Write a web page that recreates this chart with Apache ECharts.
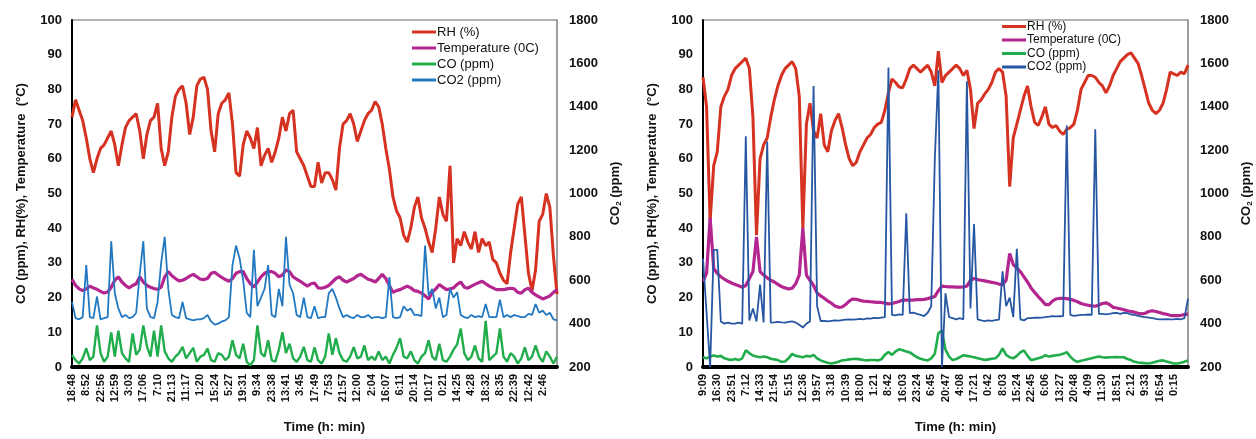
<!DOCTYPE html>
<html><head><meta charset="utf-8">
<script src="https://cdn.jsdelivr.net/npm/echarts@6/dist/echarts.min.js"></script>
<style>html,body{margin:0;padding:0;background:#fff}#c{width:1256px;height:439px}</style>
</head><body><div id="c"></div>
<script>
var timeLabelsA = ['18:48','8:52','22:56','12:59','3:03','17:06','7:10','21:13','11:17','1:20','15:24','5:27','19:31','9:34','23:38','13:41','3:45','17:49','7:53','21:57','12:00','2:04','16:07','6:11','20:14','10:17','0:21','14:25','4:28','18:32','8:35','22:39','12:42','2:46'];
var timeLabelsB = ['9:09','16:30','23:51','7:12','14:33','21:54','5:15','12:36','19:57','3:18','10:39','18:00','1:21','8:42','16:03','23:24','6:45','20:47','4:08','17:21','0:42','8:03','15:24','22:45','6:06','13:27','20:48','4:09','11:30','18:51','2:12','9:33','16:54','0:15'];
var seriesNames = ['RH (%)','Temperature (0C)','CO (ppm)','CO2 (ppm)'];

var rhA = [72,77,74,71,66,60,56,60,63,64,
66,68,64,58,64,69,71,72,73,68,
60,67,71,72,76,63,58,62,72,78,
80,81,76,67,72,81,83,83.5,80,68,
62,73,76,77,79,70,56,55,64,68,
66,63,69,58,61,63,59,62,66,72,
68,73,74,62,60,58,55,52,52,59,
53,56,56,54,51,63,70,71,73,70,
65,68,71,73,74,76.5,75,70,63,57,
49,45,43,38,36,40,46,49,43,40,
36,33,40,49,44,42,58,30,37,35,
39,36,34,39,33,37,35,36,31,30,
27,25,24,33,40,47,49,38,27,22,
28,42,44,50,46,32,21];
var tempA = [25.3,23.5,22.5,22,22.5,23.3,22.8,22.4,21.8,21.3,
21.6,23,25,26,24.5,23.5,22.8,23.5,24,26,
24.5,23.5,23,22.6,22.4,23,26,27.5,26.3,25.5,
24.8,25,25.5,26.2,26.7,26,25.3,25.2,25.5,27,
27.3,26.5,25.8,25.2,24.7,25.5,27,27.5,27.5,25.5,
24,23,24.5,26,27,27.5,27.5,27,26,26.5,
28,27.5,26,25.3,24.7,24,23.3,24,24.2,22.8,
22.7,23,23.5,24.5,25.5,26,25,24.5,25,25.5,
26.3,26.7,26,25.3,25,24.5,25.5,26.7,25.5,23.5,
21.5,22,22.3,22.8,23.3,22.8,22,21.8,21.3,20.5,
19.6,21.5,22.5,23.8,23,22.3,22.5,22.8,23.8,24.5,
23,22.7,23.3,23.8,24.3,24.7,24,23.3,22.8,22.3,
22.3,22.3,22.5,22.7,22.5,21.5,21.3,22.3,22.7,21.5,
20.8,20.2,19.6,20,20.5,21.5,22.3];
var coA = [3.4,2,1,2.5,5.4,2,3,12,4,1.5,
3,10,3,10.5,4,2.5,1.5,9.7,3.5,5,
12,6,3,10.5,3,12,4.5,2.5,1.5,3,
4,5.8,2.5,4,5.5,1.5,3,3.5,5.3,2,
1.5,4,3.5,2,3,7.7,3.5,2.5,6.7,1.5,
0.5,2,12,4,3,7.7,2,1.5,5,10,
4,6.7,2.5,1.5,3,5.8,2,1.5,5.7,2,
1,3,9.7,3.5,8.3,4,2,1.5,3,5.7,
2.5,3,6.2,2,3,2,4.5,2,3,1,
3.5,5.5,8.3,3,2.5,4.5,2,1,3,4,
7.7,3,2,6.7,2,1.5,3,5,6.5,11.1,
4,2,3,6.2,2.5,1.5,13.3,2,3,4,
11.1,3,1.5,4,3,1,2.5,5.7,2,3,
6.2,3,1.5,4.5,3,1,3];
var co2A = [500,425,420,430,670,430,425,525,420,425,
430,780,540,470,430,440,425,430,450,630,
780,470,430,425,500,680,800,560,440,430,
425,500,425,420,415,420,420,425,440,410,
395,400,410,415,430,670,760,700,600,450,
430,740,480,520,560,670,440,430,560,480,
800,580,540,440,430,520,430,425,480,425,
430,430,540,560,520,470,430,440,430,425,
440,430,430,440,425,430,430,425,430,615,
430,425,430,480,460,470,440,440,435,760,
530,560,470,520,430,440,560,520,545,440,
430,425,440,430,435,430,490,430,430,430,
510,430,440,430,440,435,430,430,445,440,
490,450,460,440,450,420,415];

var rhB = [83.5,75,42,58,62,75,78,80,84,86,
87,88,89,86,72,38,60,64,66,72,
77,81,84,86,87,88,86,78,40,70,
76,68,66,73,64,62,68,71,73,69,
64,60,58,59,62,64,66,67,69,70,
70.5,74,79,83,82,80.7,80.5,83,86,87,
86,85,86,87,85,81,91,82,84,85,
86,87,86,84,85.5,80,68.7,76,77,78.7,
80,82,85,86,85,78,52,66,70,74,
78,81,75,70.5,69.6,72,75,70,69,69.6,
68,67,68.5,69,70,74,80,82,84,84,
83.5,82,81,79,81,84,86,88,89,90,
90.5,89,87.5,84,80,76,74,73,74,76,
80,85,84.5,84,85,84.5,87];
var tempB = [24.7,27,43,28.4,27,26,25.3,24.7,24.2,23.8,
23.4,23,23.5,25.5,27.5,37.5,27.5,26.5,25.7,25,
24.5,23.8,23.2,22.8,22.5,22.7,24,26.5,40,26.5,
25,23.5,21.3,20.5,19.8,19,18.4,17.6,17.2,17.3,
18,19,19.6,19.5,19.2,19,18.9,18.8,18.7,18.6,
18.6,18.4,18.2,18.3,18.6,18.9,19.3,19.3,19.3,19.3,
19.4,19.4,19.5,19.7,20,20.3,22,23.3,23.2,23.1,
23.1,23,23,23.1,23.3,25,25.5,25.2,25,24.8,
24.6,24.4,24.2,23.9,23.7,25,32.7,29.5,28.5,27.5,
26,24.5,22.8,21.5,20.3,19.2,18,18,19,19.6,
19.8,19.8,19.7,19.5,19.2,18.8,18.3,18,17.8,17.6,
17.5,17.9,18.3,18.5,18,17.2,17,16.8,16.5,16.2,
16,15.8,15.5,15.3,15.5,16,16.2,16,15.7,15.4,
15.2,14.9,14.8,14.8,14.9,15.1,15.3];
var coB = [2.8,2.5,3,3.3,3,3.2,2.5,2.2,2,2.3,
2,2.5,4.8,4,3.3,3,2.8,3,2.8,2.4,
2.2,2,1.5,1.6,2.5,3.8,3.2,3,2.8,3.2,
3,3.5,2.5,1.9,1.5,1.2,1,1.2,1.5,1.9,
2,2.2,2.3,2.4,2.2,2,1.9,2,2,1.9,
2.2,3.5,4.3,3.5,4.5,5.1,4.8,4.5,4.2,3.5,
2.8,2.4,2.1,1.9,2.5,3.8,9.7,10.5,5,3,
2,2.3,2.8,3.4,3.2,3,2.8,2.5,2.3,2,
2.2,2.4,2.5,3.5,5.4,3.5,2.8,2.5,3.2,4.2,
4.8,3.2,2,2.2,2.5,2.8,3.4,3,3.2,3.4,
3.5,3.8,4.3,3,2,1.5,1.8,2,2.3,2.5,
2.8,3,2.8,2.7,2.8,2.8,2.9,2.8,2.8,2.3,
2,1.5,1.3,1.2,1.1,1,1.2,1.5,1.8,1.9,
1.6,1.3,1,1,1.2,1.5,1.9];
var co2B = [700,450,200,740,740,410,400,405,400,400,
405,400,1264,415,470,410,580,405,1240,405,
406,408,406,405,408,410,405,395,382,400,
410,1496,480,412,413,410,413,415,414,416,
418,420,418,420,422,420,424,423,426,425,
428,430,1581,440,438,443,440,909,448,451,
445,440,435,450,480,1155,1568,200,540,430,
425,420,425,420,1518,470,859,420,415,412,
415,413,416,418,641,480,520,430,745,420,
415,425,425,428,427,428,430,432,435,433,
434,435,1313,440,436,438,440,440,442,440,
1296,445,445,443,445,448,450,445,450,448,
442,440,436,432,430,428,425,422,420,420,
421,420,420,422,420,425,515];

var C_RH = '#d63222', C_T = '#b3258f', C_CO = '#22ad4c', C_CO2A = '#2279c2', C_CO2B = '#2757a3';
var FONT = 'Liberation Sans, Arial, sans-serif';
var lastIdx = rhA.length - 1;

function pts(arr){ return arr.map(function(v,i){ return [i,v]; }); }

function xAxisFor(grid, labels){
  return {
    type:'value', gridIndex:grid, min:0, max:lastIdx, interval:4,
    name:'Time (h: min)', nameLocation:'middle', nameGap:54,
    nameTextStyle:{fontFamily:FONT, fontWeight:'bold', fontSize:13, color:'#111', padding:[0,0,0,20]},
    axisLine:{show:true, lineStyle:{color:'#000', width:4}},
    axisTick:{show:false}, splitLine:{show:false},
    axisLabel:{rotate:90, margin:7, fontFamily:FONT, fontWeight:'bold', fontSize:11, color:'#111',
      formatter:function(v){ var k = Math.round(v/4); return (v%4===0 && labels[k]) ? labels[k] : ''; }}
  };
}
function yLeft(grid){
  return {
    type:'value', gridIndex:grid, min:0, max:100, interval:10, position:'left',
    name:'CO (ppm), RH(%), Temperature  (\u00B0C)', nameLocation:'middle', nameGap:44, nameRotate:90,
    nameTextStyle:{fontFamily:FONT, fontWeight:'bold', fontSize:13, color:'#111'},
    axisLine:{show:true, lineStyle:{color:'#000', width:2}},
    axisTick:{show:false}, splitLine:{show:false},
    axisLabel:{margin:10, fontFamily:FONT, fontWeight:'bold', fontSize:13, color:'#111',
      formatter:function(v){ return String(v); }}
  };
}
function yRight(grid){
  return {
    type:'value', gridIndex:grid, min:200, max:1800, interval:200, position:'right',
    name:'CO{s|2} (ppm)', nameLocation:'middle', nameGap:50, nameRotate:90,
    nameTextStyle:{fontFamily:FONT, fontWeight:'bold', fontSize:13, color:'#111', lineHeight:16,
      rich:{s:{fontFamily:FONT, fontWeight:'bold', fontSize:8, color:'#111', verticalAlign:'bottom', lineHeight:16, padding:[6,0,0,0]}}},
    axisLine:{show:true, lineStyle:{color:'#999', width:1.5}},
    axisTick:{show:false}, splitLine:{show:false},
    axisLabel:{margin:12, fontFamily:FONT, fontWeight:'bold', fontSize:13, color:'#111',
      formatter:function(v){ return String(v); }}
  };
}
function line(name, data, xi, yi, color, w){
  return {type:'line', name:name, data:pts(data), xAxisIndex:xi, yAxisIndex:yi,
    showSymbol:false, symbol:'none', lineStyle:{color:color, width:w}, itemStyle:{color:color}, z:2};
}
function legendFor(left, top, co2Color, fs, lh, gap){
  return {
    orient:'vertical', left:left, top:top, padding:0, itemGap:gap, itemWidth:24, itemHeight:3,
    icon:'rect', selectedMode:false,
    textStyle:{fontFamily:FONT, fontSize:fs, lineHeight:lh, color:'#111', padding:[0,0,0,-4]},
    data:[{name:seriesNames[0], itemStyle:{color:C_RH}},
          {name:seriesNames[1], itemStyle:{color:C_T}},
          {name:seriesNames[2], itemStyle:{color:C_CO}},
          {name:seriesNames[3], itemStyle:{color:co2Color}}]
  };
}

var chart = echarts.init(document.getElementById('c'), null, {renderer:'canvas'});
chart.setOption({
  animation:false,
  backgroundColor:'#fff',
  grid:[
    {left:72, top:20, width:485, height:352, show:true, borderColor:'#999', borderWidth:1.5, backgroundColor:'transparent'},
    {left:703, top:20, width:485, height:352, show:true, borderColor:'#999', borderWidth:1.5, backgroundColor:'transparent'}
  ],
  legend:[ legendFor(412, 25, C_CO2A, 13, 14, 2), legendFor(1002, 20, C_CO2B, 12, 13, 0.5) ],
  xAxis:[ xAxisFor(0, timeLabelsA), xAxisFor(1, timeLabelsB) ],
  yAxis:[ yLeft(0), yRight(0), yLeft(1), yRight(1) ],
  series:[
    line(seriesNames[0], rhA, 0, 0, C_RH, 3),
    line(seriesNames[1], tempA, 0, 0, C_T, 3.2),
    line(seriesNames[2], coA, 0, 0, C_CO, 2.4),
    line(seriesNames[3], co2A, 0, 1, C_CO2A, 1.8),
    line(seriesNames[0], rhB, 1, 2, C_RH, 3),
    line(seriesNames[1], tempB, 1, 2, C_T, 3.2),
    line(seriesNames[2], coB, 1, 2, C_CO, 2.6),
    line(seriesNames[3], co2B, 1, 3, C_CO2B, 1.8)
  ]
});
</script>
</body></html>
